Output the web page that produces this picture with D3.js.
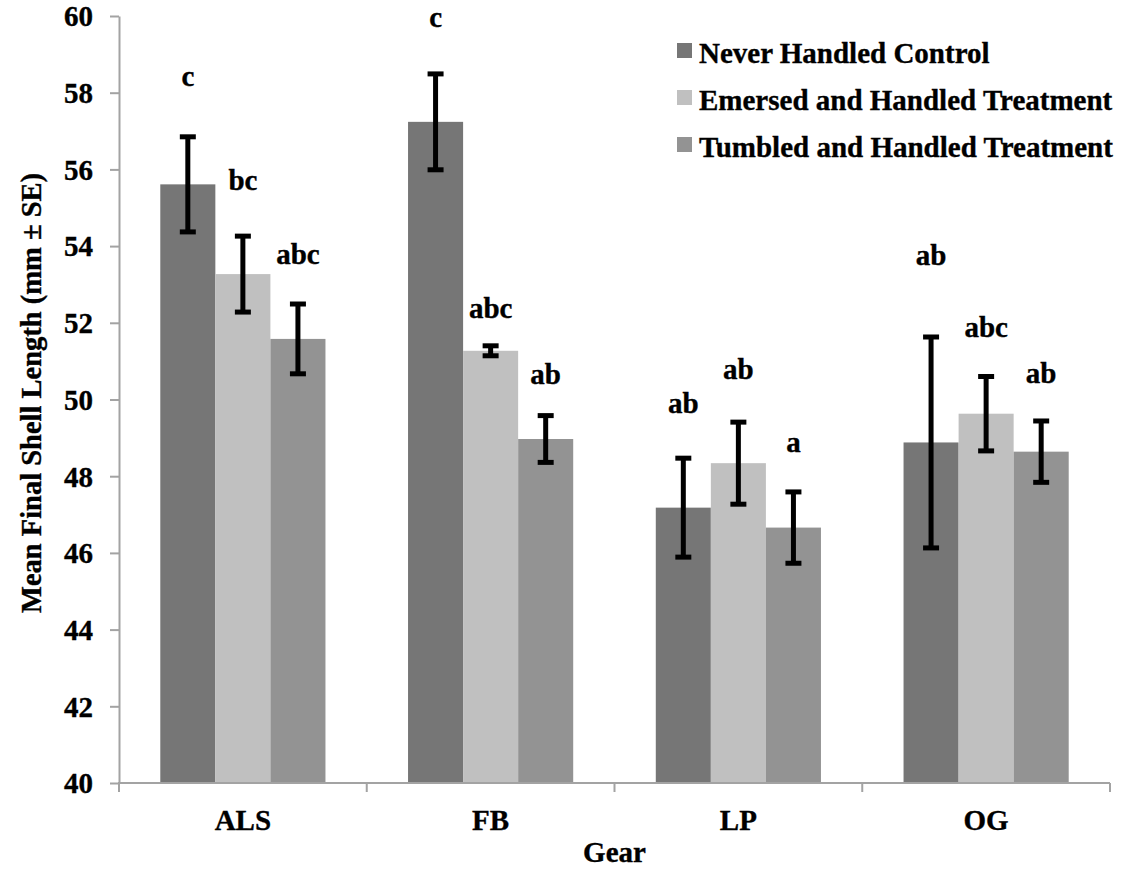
<!DOCTYPE html>
<html>
<head>
<meta charset="utf-8">
<script src="https://cdn.jsdelivr.net/npm/d3@7"></script>
<style>
  html, body { margin: 0; padding: 0; background: #fff; }
  svg { display: block; }
  text { font-family: "Liberation Serif", "Times New Roman", serif; font-weight: bold; fill: #000; stroke: #000; stroke-width: 0.35px; }
</style>
</head>
<body>
<svg id="chart" width="1127" height="869"></svg>
<script>
// Gear types on the x axis
const gears = ["ALS", "FB", "LP", "OG"];
// Treatment series
const treatments = ["Never Handled Control", "Emersed and Handled Treatment", "Tumbled and Handled Treatment"];
// Mean final shell length (mm), one array per treatment, in gear order
const neverHandled = [55.61, 57.24, 47.18, 48.88];
const emersedHandled = [53.27, 51.27, 48.34, 49.63];
const tumbledHandled = [51.58, 48.97, 46.66, 48.64];
// Standard errors (mm)
const neverSE = [1.24, 1.25, 1.29, 2.75];
const emersedSE = [0.99, 0.13, 1.07, 0.97];
const tumbledSE = [0.91, 0.61, 0.93, 0.80];
// Significance letters and the height (mm) where each one sits
const neverLetters = ["c", "c", "ab", "ab"];
const emersedLetters = ["bc", "abc", "ab", "abc"];
const tumbledLetters = ["abc", "ab", "a", "ab"];
const neverLetterAt = [58.17, 59.72, 49.64, 53.51];
const emersedLetterAt = [55.46, 52.12, 50.53, 51.64];
const tumbledLetterAt = [53.53, 50.40, 48.62, 50.42];
// Y axis ticks
const yTicks = [40, 42, 44, 46, 48, 50, 52, 54, 56, 58, 60];

const colors = ["#767676", "#c0c0c0", "#939393"];
const axisColor = "#a3a3a3";
const fontSize = "29px";

const series = [
  { name: treatments[0], values: neverHandled, se: neverSE, letters: neverLetters, at: neverLetterAt },
  { name: treatments[1], values: emersedHandled, se: emersedSE, letters: emersedLetters, at: emersedLetterAt },
  { name: treatments[2], values: tumbledHandled, se: tumbledSE, letters: tumbledLetters, at: tumbledLetterAt }
];

const rows = [];
series.forEach((s, si) => {
  gears.forEach((g, gi) => {
    rows.push({ gear: g, treatment: s.name, si, value: s.values[gi], se: s.se[gi], letter: s.letters[gi], at: s.at[gi] });
  });
});

const svg = d3.select("#chart");
const plotLeft = 119, plotRight = 1110, plotTop = 16, plotBottom = 783;

const x0 = d3.scaleBand().domain(gears).range([plotLeft, plotRight]).padding(0);
const x1 = d3.scaleBand().domain(treatments).range([0, x0.bandwidth()]).paddingInner(0).paddingOuter(0.75);
const y = d3.scaleLinear().domain([40, 60]).range([plotBottom, plotTop]);

// Bars
svg.append("g").selectAll("rect").data(rows).join("rect")
  .attr("x", d => x0(d.gear) + x1(d.treatment))
  .attr("y", d => y(d.value))
  .attr("width", x1.bandwidth())
  .attr("height", d => y(40) - y(d.value))
  .attr("fill", d => colors[d.si]);

// Y axis
const yAxis = svg.append("g")
  .attr("transform", `translate(${plotLeft},0)`)
  .call(d3.axisLeft(y).tickValues(yTicks).tickSize(9).tickSizeOuter(0).tickPadding(17).tickFormat(d3.format("d")));
yAxis.select(".domain").attr("stroke", axisColor).attr("stroke-width", 2);
yAxis.selectAll(".tick line").attr("stroke", axisColor).attr("stroke-width", 2);
yAxis.selectAll(".tick text").style("font-size", fontSize).attr("dy", "0.34em")
  .style("font-family", "'Liberation Serif', serif").style("font-weight", "bold").attr("fill", "#000");

// X axis: baseline with ticks at the category boundaries
const edges = gears.map(g => x0(g)).concat([plotRight]);
svg.append("line").attr("x1", plotLeft - 1).attr("x2", plotRight).attr("y1", plotBottom).attr("y2", plotBottom)
  .attr("stroke", axisColor).attr("stroke-width", 2);
svg.append("g").selectAll("line").data(edges).join("line")
  .attr("x1", d => d).attr("x2", d => d).attr("y1", plotBottom).attr("y2", plotBottom + 9)
  .attr("stroke", axisColor).attr("stroke-width", 2);

// Category labels
const xAxis = svg.append("g")
  .attr("transform", `translate(0,${plotBottom})`)
  .call(d3.axisBottom(x0).tickSize(0).tickPadding(26));
xAxis.select(".domain").remove();
xAxis.selectAll(".tick text").style("font-size", fontSize)
  .style("font-family", "'Liberation Serif', serif").style("font-weight", "bold").attr("fill", "#000");

// Error bars
const eb = svg.append("g").attr("stroke", "#000").attr("stroke-width", 5);
rows.forEach(d => {
  const cx = x0(d.gear) + x1(d.treatment) + x1.bandwidth() / 2;
  const y1 = y(d.value + d.se), y2 = y(d.value - d.se);
  eb.append("line").attr("x1", cx).attr("x2", cx).attr("y1", y1).attr("y2", y2);
  eb.append("line").attr("x1", cx - 8).attr("x2", cx + 8).attr("y1", y1).attr("y2", y1);
  eb.append("line").attr("x1", cx - 8).attr("x2", cx + 8).attr("y1", y2).attr("y2", y2);
});

// Significance letters
svg.append("g").selectAll("text").data(rows).join("text")
  .attr("x", d => x0(d.gear) + x1(d.treatment) + x1.bandwidth() / 2)
  .attr("y", d => y(d.at))
  .attr("text-anchor", "middle")
  .style("font-size", fontSize)
  .text(d => d.letter);

// Axis titles
svg.append("text")
  .attr("transform", `translate(41,393) rotate(-90)`)
  .attr("text-anchor", "middle")
  .style("font-size", "28.5px")
  .text("Mean Final Shell Length (mm ± SE)");
svg.append("text")
  .attr("x", (plotLeft + plotRight) / 2)
  .attr("y", 862)
  .attr("text-anchor", "middle")
  .style("font-size", fontSize)
  .text("Gear");

// Legend
const legend = svg.append("g").attr("transform", "translate(677,0)");
treatments.forEach((t, i) => {
  const by = 63 + i * 47;
  legend.append("rect").attr("x", 0).attr("y", by - 20).attr("width", 15).attr("height", 15).attr("fill", colors[i]);
  legend.append("text").attr("x", 22).attr("y", by).style("font-size", fontSize).text(t);
});
</script>
</body>
</html>
